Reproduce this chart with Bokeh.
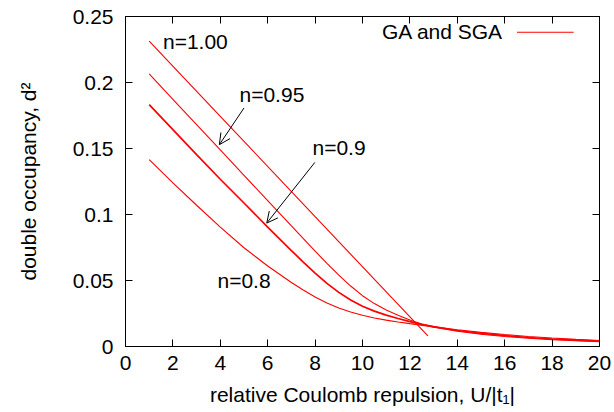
from bokeh.plotting import figure
from bokeh.models import Range1d, FixedTicker, LinearAxis, Label, Arrow, OpenHead
from bokeh.embed import file_html
from bokeh.resources import INLINE

# ---- data ----
U_n100 = [1.0, 4.0, 8.0, 12.76]
d_n100 = [0.2313, 0.1744, 0.0984, 0.0080]

U_n095 = [1, 2, 3, 4, 5, 6, 7, 8, 8.5, 9, 9.5, 10, 10.5, 11, 11.5, 12, 12.5, 13,
          14, 15, 16, 17, 18, 19, 20]
d_n095 = [0.2065, 0.1873, 0.1681, 0.1489, 0.1297, 0.1105, 0.0913, 0.0722, 0.0630,
          0.0541, 0.0458, 0.0385, 0.0325, 0.0277, 0.0237, 0.0200, 0.0170, 0.0147,
          0.0115, 0.0093, 0.0076, 0.0063, 0.0052, 0.0043, 0.0036]

U_n090 = [1, 2, 3, 4, 5, 6, 7, 7.5, 8, 8.5, 9, 9.5, 10, 10.5, 11, 11.5, 12, 12.5,
          13, 14, 15, 16, 17, 18, 19, 20]
d_n090 = [0.1832, 0.1643, 0.1454, 0.1267, 0.1087, 0.0905, 0.0727, 0.0640, 0.0556,
          0.0478, 0.0410, 0.0352, 0.0305, 0.0268, 0.0238, 0.0212, 0.0189, 0.0168,
          0.0150, 0.0121, 0.0099, 0.0082, 0.0068, 0.0057, 0.0048, 0.0040]

U_n080 = [1, 2, 3, 4, 5, 6, 7, 7.5, 8, 8.5, 9, 9.5, 10, 10.5, 11, 11.5, 12, 13,
          14, 15, 16, 17, 18, 19, 20]
d_n080 = [0.1415, 0.1240, 0.1070, 0.0905, 0.0748, 0.0610, 0.0485, 0.0428, 0.0375,
          0.0330, 0.0292, 0.0262, 0.0237, 0.0216, 0.0200, 0.0186, 0.0173, 0.0149,
          0.0127, 0.0107, 0.0091, 0.0076, 0.0064, 0.0054, 0.0046]

x_ticks = [0, 2, 4, 6, 8, 10, 12, 14, 16, 18, 20]
y_ticks = [0, 0.05, 0.1, 0.15, 0.2, 0.25]
y_tick_labels = ["0", "0.05", "0.1", "0.15", "0.2", "0.25"]

FONT = "Liberation Sans"
FS = "21px"
RED = "#ff0000"

p = figure(width=614, height=412, output_backend="svg", toolbar_location=None,
           x_range=Range1d(0, 20), y_range=Range1d(0, 0.25),
           min_border_left=125, min_border_right=15, min_border_top=16,
           min_border_bottom=66)
p.grid.visible = False
p.outline_line_color = "black"
p.outline_line_width = 1
p.background_fill_color = "white"
p.border_fill_color = "white"

p.line(U_n100, d_n100, color=RED, line_width=1.1)
p.line(U_n095, d_n095, color=RED, line_width=1.1)
p.line(U_n090, d_n090, color=RED, line_width=1.7)
p.line(U_n080, d_n080, color=RED, line_width=1.1)


def style_axis(ax):
    ax.axis_line_color = "black"
    ax.major_tick_in = 7
    ax.major_tick_out = 0
    ax.minor_tick_line_color = None
    ax.major_tick_line_color = "black"
    ax.major_label_text_font = FONT
    ax.major_label_text_font_size = FS
    ax.major_label_text_color = "black"
    ax.axis_label_text_font = FONT
    ax.axis_label_text_font_size = FS
    ax.axis_label_text_font_style = "normal"
    ax.axis_label_text_color = "black"


xa = p.xaxis[0]
xa.ticker = FixedTicker(ticks=x_ticks)
xa.axis_label = "relative Coulomb repulsion, U/|t\u2081|"
xa.major_label_standoff = 9
xa.axis_label_standoff = 10
style_axis(xa)

ya = p.yaxis[0]
ya.ticker = FixedTicker(ticks=y_ticks)
ya.major_label_overrides = {t: s for t, s in zip(y_ticks, y_tick_labels)}
ya.axis_label = "double occupancy, d\u00b2"
ya.major_label_standoff = 12
ya.axis_label_standoff = 30
style_axis(ya)

# mirrored inward ticks on top and right, without labels
top = LinearAxis(ticker=FixedTicker(ticks=x_ticks),
                 major_label_overrides={t: "" for t in x_ticks})
style_axis(top)
top.major_label_standoff = 0
p.add_layout(top, "above")
right = LinearAxis(ticker=FixedTicker(ticks=y_ticks),
                   major_label_overrides={t: "" for t in y_ticks})
style_axis(right)
right.major_label_standoff = 0
p.add_layout(right, "right")

# annotations
def lab(x, y, s, align="left"):
    p.add_layout(Label(x=x, y=y, text=s, text_font=FONT, text_font_size=FS,
                       text_align=align, text_baseline="middle", text_color="black"))

lab(1.58, 0.2310, "n=1.00")
lab(4.81, 0.1910, "n=0.95")
lab(7.89, 0.1505, "n=0.9")
lab(3.88, 0.0500, "n=0.8")

p.add_layout(Arrow(x_start=5.0, y_start=0.1807, x_end=3.96, y_end=0.1529,
                   line_color="black", line_width=1,
                   end=OpenHead(size=11, line_color="black", line_width=1)))
p.add_layout(Arrow(x_start=7.99, y_start=0.1395, x_end=5.96, y_end=0.0935,
                   line_color="black", line_width=1,
                   end=OpenHead(size=11, line_color="black", line_width=1)))

# key
lab(15.94, 0.2390, "GA and SGA", align="right")
p.add_layout(Arrow(x_start=16.52, y_start=0.2381, x_end=18.91, y_end=0.2381,
                   line_color=RED, line_width=1.1, end=None))

open("out.html", "w").write(file_html(p, INLINE))
